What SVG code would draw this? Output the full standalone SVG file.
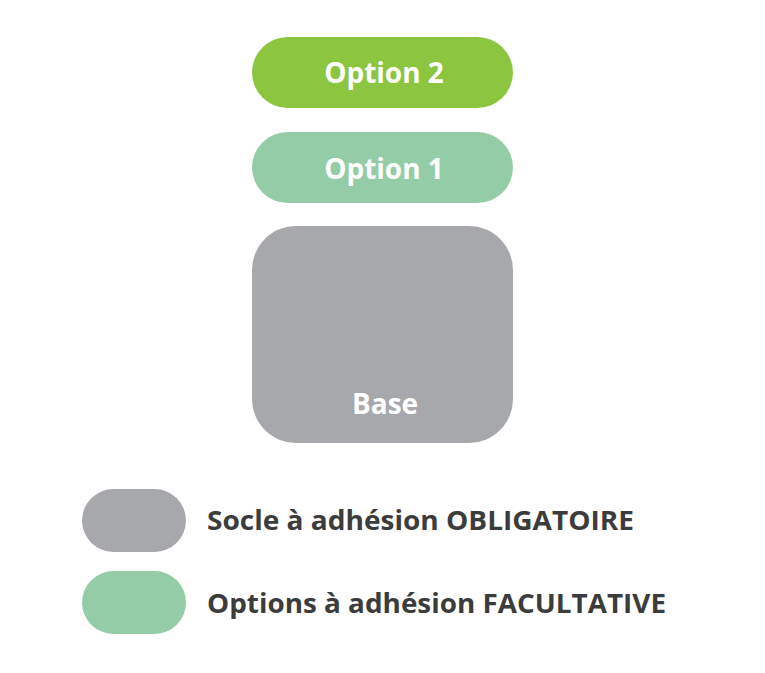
<svg xmlns="http://www.w3.org/2000/svg" width="765" height="673" viewBox="0 0 765 673">
<style>
.lbl{font-family:"Open Sans","Liberation Sans",sans-serif;font-weight:700;fill:#ffffff;text-anchor:middle;font-size:28px}
.leg{font-family:"Open Sans","Liberation Sans",sans-serif;font-weight:700;fill:#3c3c3c;font-size:26px}
</style>
<rect width="765" height="673" fill="#ffffff"/>
<g id="option2">
<rect x="252" y="37" width="261" height="71" rx="35.5" fill="#8cc540"/>
<text class="lbl" x="384" y="83">Option 2</text>
</g>
<g id="option1">
<rect x="252" y="132" width="261" height="71" rx="35.5" fill="#93cca6"/>
<text class="lbl" x="384" y="179">Option 1</text>
</g>
<g id="base">
<rect x="252" y="226" width="261" height="217" rx="44" fill="#a7a8ab"/>
<text class="lbl" x="385" y="414">Base</text>
</g>
<g id="legend-socle">
<rect x="82" y="489" width="104" height="63" rx="31.5" fill="#a7a8ab"/>
<text class="leg" x="207" y="530" textLength="427" lengthAdjust="spacingAndGlyphs">Socle à adhésion OBLIGATOIRE</text>
</g>
<g id="legend-options">
<rect x="82" y="571" width="104" height="63" rx="31.5" fill="#93cca6"/>
<text class="leg" x="207" y="613" textLength="459" lengthAdjust="spacingAndGlyphs">Options à adhésion FACULTATIVE</text>
</g>
<g id="connectors"></g>
</svg>
